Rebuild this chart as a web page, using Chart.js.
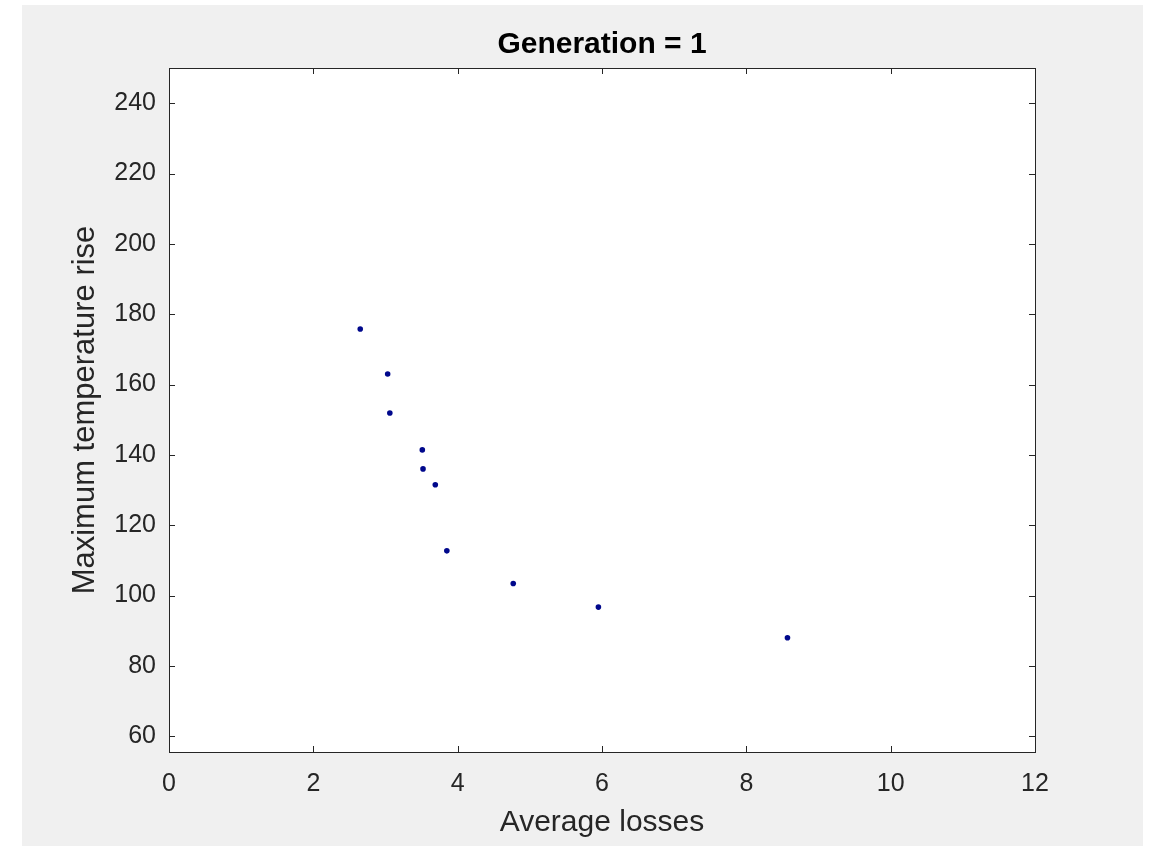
<!DOCTYPE html>
<html>
<head>
<meta charset="utf-8">
<script src="https://cdn.jsdelivr.net/npm/chart.js@4/dist/chart.umd.min.js"></script>
<style>
	html, body { margin: 0; padding: 0; background: #ffffff; }
	#figure {
		position: absolute;
		left: 22px;
		top: 5px;
		width: 1121px;
		height: 841px;
		background: #f0f0f0;
	}
</style>
</head>
<body>
<div id="figure"><canvas id="paretoChart" width="1121" height="841"></canvas></div>
<script>
// data
var averageLosses = [2.65, 3.03, 3.06, 3.51, 3.52, 3.69, 3.85, 4.77, 5.95, 8.57];
var maxTempRise = [175.8, 163.0, 151.9, 141.4, 136.0, 131.5, 112.7, 103.4, 96.7, 88.0];
var xTicks = [0, 2, 4, 6, 8, 10, 12];
var yTicks = [60, 80, 100, 120, 140, 160, 180, 200, 220, 240];

var axisColor = '#262626';
var fontFamily = '"Liberation Sans", Arial, sans-serif';

// white plot area, box and inward ticks like the matlab axes
var matlabAxes = {
	id: 'matlabAxes',
	beforeDatasetsDraw: function(chart) {
		let a = chart.chartArea;
		let ctx = chart.ctx;
		ctx.save();
		ctx.fillStyle = '#ffffff';
		ctx.fillRect(a.left, a.top, a.right - a.left, a.bottom - a.top);
		ctx.restore();
	},
	afterDatasetsDraw: function(chart) {
		let a = chart.chartArea;
		let ctx = chart.ctx;
		let len = 6;
		ctx.save();
		ctx.strokeStyle = axisColor;
		ctx.lineWidth = 1;
		ctx.beginPath();
		chart.scales.x.ticks.forEach(function(t) {
			let px = Math.round(chart.scales.x.getPixelForValue(t.value)) + 0.5;
			ctx.moveTo(px, a.bottom); ctx.lineTo(px, a.bottom - len);
			ctx.moveTo(px, a.top); ctx.lineTo(px, a.top + len);
		});
		chart.scales.y.ticks.forEach(function(t) {
			let py = Math.round(chart.scales.y.getPixelForValue(t.value)) + 0.5;
			ctx.moveTo(a.left, py); ctx.lineTo(a.left + len, py);
			ctx.moveTo(a.right, py); ctx.lineTo(a.right - len, py);
		});
		ctx.stroke();
		ctx.strokeRect(Math.round(a.left) + 0.5, Math.round(a.top) + 0.5,
			Math.round(a.right - a.left), Math.round(a.bottom - a.top));
		ctx.restore();
	}
};

let points = averageLosses.map(function(x, i) {
	return {x: x, y: maxTempRise[i]};
});

let config = {
	type: 'scatter',
	data: {
		datasets: [{
			data: points,
			pointRadius: 2.8,
			pointHoverRadius: 2.8,
			pointBorderWidth: 0,
			pointBackgroundColor: '#00088c'
		}]
	},
	options: {
		responsive: false,
		animation: false,
		events: [],
		layout: {
			padding: {left: 0, top: 0, right: 108, bottom: 0}
		},
		plugins: {
			legend: {display: false},
			tooltip: {enabled: false},
			title: {
				display: true,
				fullSize: false,
				text: 'Generation = 1',
				color: '#000000',
				font: {family: fontFamily, size: 30, weight: 'bold'},
				padding: {top: 22, bottom: 5}
			}
		},
		scales: {
			x: {
				type: 'linear',
				min: 0,
				max: 12,
				grid: {display: false, drawTicks: false},
				border: {display: false},
				afterBuildTicks: function(scale) {
					scale.ticks = xTicks.map(function(v) { return {value: v}; });
				},
				afterFit: function(scale) {
					scale.height = 94;
				},
				ticks: {
					color: axisColor,
					padding: 17,
					maxRotation: 0,
					font: {family: fontFamily, size: 25}
				},
				title: {
					display: true,
					text: 'Average losses',
					color: axisColor,
					font: {family: fontFamily, size: 30},
					padding: {top: 0, bottom: 5}
				}
			},
			y: {
				type: 'linear',
				min: 55.5,
				max: 250,
				grid: {display: false, drawTicks: false},
				border: {display: false},
				afterBuildTicks: function(scale) {
					scale.ticks = yTicks.map(function(v) { return {value: v}; });
				},
				afterFit: function(scale) {
					scale.width = 147;
				},
				ticks: {
					color: axisColor,
					padding: 13,
					font: {family: fontFamily, size: 25}
				},
				title: {
					display: true,
					text: 'Maximum temperature rise',
					color: axisColor,
					font: {family: fontFamily, size: 31},
					padding: {top: 44.4, bottom: 0}
				}
			}
		}
	},
	plugins: [matlabAxes]
};

new Chart(document.getElementById('paretoChart'), config);
</script>
</body>
</html>
